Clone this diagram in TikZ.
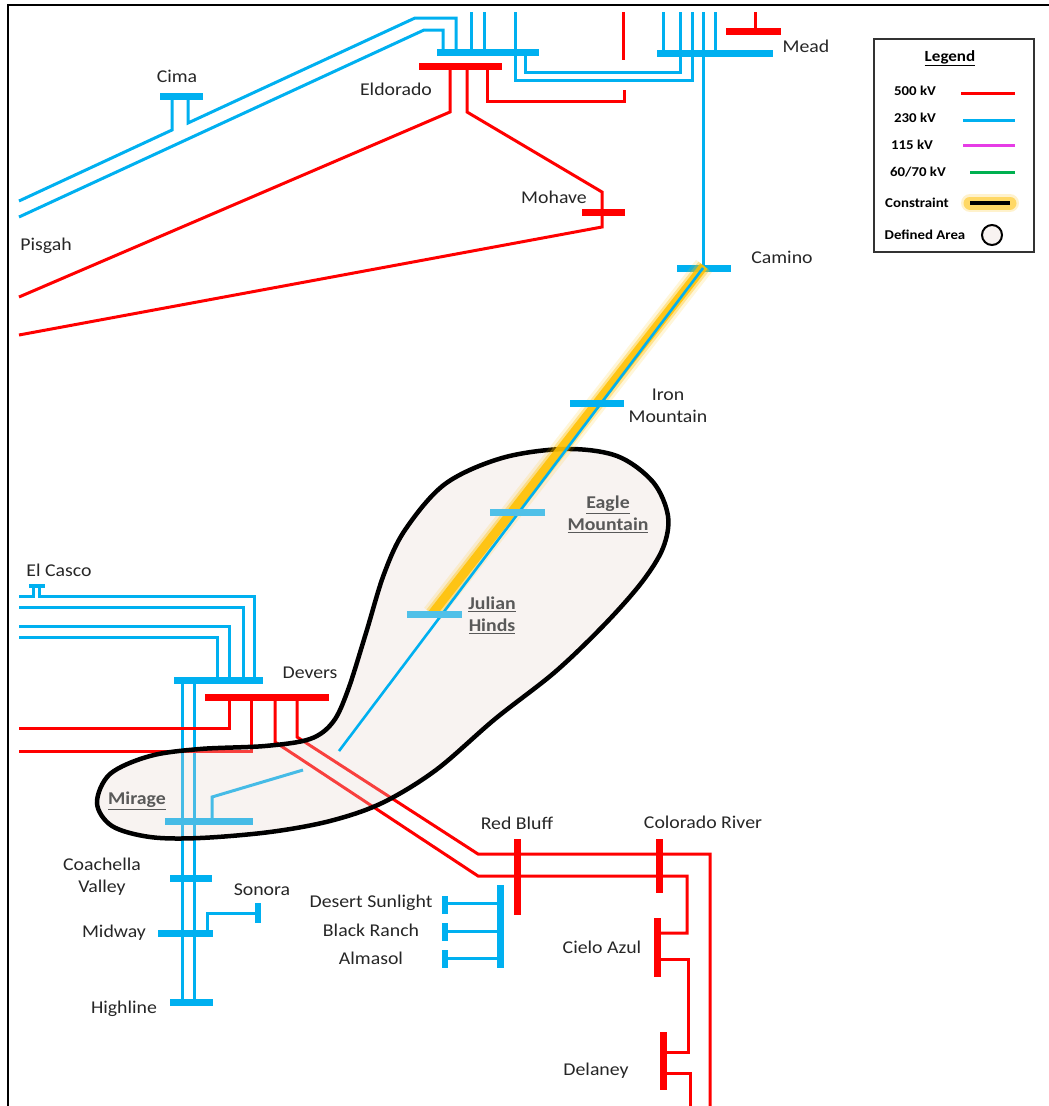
\documentclass[tikz,border=0pt]{standalone}
\usepackage{fontspec}
\setmainfont{Carlito}[FakeStretch=1.1]
\definecolor{rd}{RGB}{255,0,0}
\definecolor{bl}{RGB}{0,176,240}
\definecolor{lbl}{RGB}{80,192,232}
\definecolor{mg}{RGB}{230,60,230}
\definecolor{gr}{RGB}{0,176,80}
\definecolor{gold}{RGB}{255,192,0}
\definecolor{areafill}{RGB}{232,215,208}
\definecolor{areafillL}{RGB}{248,243,241}
\definecolor{txt}{RGB}{38,38,38}
\definecolor{utxt}{RGB}{89,89,89}
\tikzset{
  rline/.style={draw=rd, line width=3pt},
  bline/.style={draw=bl, line width=3pt},
  rbus/.style={draw=rd, line width=7pt},
  bbus/.style={draw=bl, line width=7pt},
  lbus/.style={draw=lbl, line width=7pt},
  lab/.style={font=\fontsize{18}{22}\selectfont, text=txt, inner sep=0pt, align=center},
  ulab/.style={font=\fontsize{18}{22}\selectfont\bfseries, text=utxt, inner sep=0pt, align=center},
  leg/.style={font=\fontsize{13.5}{16}\selectfont\bfseries, text=black, inner sep=0pt},
  areashape/.style={smooth cycle, tension=0.55},
}
\begin{document}
\begin{tikzpicture}[x=1pt,y=-1pt]
\useasboundingbox (0,0) rectangle (1049,1106);
% frame
\draw[line width=2pt, black] (8,1106) -- (8,5) -- (1049,5);

% ---------- top: Cima, Pisgah, Eldorado, Mead ----------
\draw[bline] (19,201) -- (172,130) -- (172,96);
\draw[bline] (188,96) -- (188,123) -- (415,18) -- (456,18) -- (456,52);
\draw[bline] (19,217) -- (424,30) -- (443,30) -- (443,52);
\draw[bbus] (160,96) -- (203,96);
\draw[bline] (471,12) -- (471,52);
\draw[bline] (484,12) -- (484,52);
\draw[bline] (515,12) -- (515,80) -- (692,80) -- (692,12);
\draw[bline] (525,52) -- (525,72) -- (680,72) -- (680,12);
\draw[bline] (663,12) -- (663,53);
\draw[bline] (715,12) -- (715,53);
\draw[bline] (703,12) -- (703,268);
\draw[bbus] (437,52) -- (539,52);
\draw[bbus] (657,53) -- (773,53);
\draw[rline] (755,12) -- (755,31);
\draw[rbus] (726,31) -- (781,31);
\draw[rline] (623,12) -- (623,60);
\draw[rline] (487,66) -- (487,101) -- (624,101) -- (624,90);
\draw[rline] (450,66) -- (450,112) -- (19,297);
\draw[rline] (467,66) -- (467,112) -- (602,192) -- (602,227) -- (19,335);
\draw[rbus] (419,66) -- (502,66);
\draw[rbus] (582,212) -- (625,212);
\draw[bbus] (677,268) -- (731,268);

% ---------- Devers area ----------
\draw[bline] (19,596) -- (33,596) -- (33,586);
\draw[draw=bl, line width=4.5pt] (29,586) -- (45,586);
\draw[bline] (39,586) -- (39,596) -- (254,596) -- (254,680);
\draw[bline] (19,607) -- (243,607) -- (243,680);
\draw[bline] (19,626) -- (229,626) -- (229,680);
\draw[bline] (19,637) -- (217,637) -- (217,680);
\draw[bline] (182,680) -- (182,1002);
\draw[bline] (194,680) -- (194,1002);
\draw[bbus] (174,680) -- (263,680);
\draw[rline] (229,697) -- (229,728) -- (19,728);
\draw[rline] (251,697) -- (251,751) -- (19,751);
\draw[rline] (275,697) -- (275,742) -- (478,876) -- (687,876) -- (687,933) -- (660,933);
\draw[rline] (297,697) -- (297,737) -- (478,854) -- (710,854) -- (710,1106);
\draw[rbus] (205,697) -- (329,697);
\draw[rline] (657,959) -- (688,959) -- (688,1052) -- (663,1052);
\draw[rline] (663,1073) -- (690,1073) -- (690,1106);
\draw[rbus] (657,918) -- (657,977);
\draw[rbus] (663,1032) -- (663,1090);
\draw[rbus] (517,839) -- (517,915);
\draw[rbus] (659,839) -- (659,893);

% solar
\draw[bline] (445,903) -- (500,903);
\draw[bline] (445,931) -- (500,931);
\draw[bline] (445,958) -- (500,958);
\draw[bbus] (500,885) -- (500,968);
\draw[draw=bl, line width=6pt] (445,896) -- (445,914);
\draw[draw=bl, line width=6pt] (445,923) -- (445,941);
\draw[draw=bl, line width=6pt] (445,950) -- (445,968);

% Mirage / Coachella / Midway / Sonora / Highline
\draw[bline] (212,821) -- (212,797) -- (303,770);
\draw[bbus] (165,821) -- (253,821);
\draw[bbus] (170,878) -- (212,878);
\draw[bline] (207,933) -- (207,913) -- (258,913);
\draw[bbus] (158,933) -- (213,933);
\draw[draw=bl, line width=6pt] (258,903) -- (258,923);
\draw[bbus] (170,1002) -- (213,1002);

% ---------- defined area ----------
\def\areapts{(565,449) (617,456) (653,482) (668,516) (663,548) (642,582) (605,624)
(555,672) (495,719) (436,770) (382,803) (330,821) (270,832) (200,838) (150,837) (112,826)
(97,803) (110,774) (150,756) (200,749) (265,746) (310,739) (333,722) (348,690)
(366,633) (384,574) (405,530) (445,484) (502,458)}
\path[fill=areafill, fill opacity=0.3] plot[areashape] coordinates {\areapts};
\draw[line width=4.5pt, black] plot[areashape] coordinates {\areapts};

% ---------- constraint ----------
\draw[gold, line width=20pt, opacity=0.15] (704,266) -- (432,614);
\draw[gold, line width=14pt, opacity=0.35] (704,266) -- (432,614);
\draw[gold, line width=9pt, opacity=0.85] (704,266) -- (432,614);
\draw[draw=bl, line width=2.6pt] (703,268) -- (339,751);
\draw[bbus] (570,403) -- (624,403);
\draw[lbus] (490,512) -- (545,512);
\draw[lbus] (407,614) -- (462,614);

% ---------- labels ----------
\node[lab] (cima) at (177,76) {Cima};
\node[lab] (eldorado) at (396,89) {Eldorado};
\node[lab] (mohave) at (554,197) {Mohave};
\node[lab] (pisgah) at (46,246) {Pisgah};
\node[lab] (mead) at (806,46) {Mead};
\node[lab] (camino) at (782,257) {Camino};
\node[lab] (iron) at (668,406) {Iron\\Mountain};
\node[ulab] (eagle) at (608,514) {\underline{Eagle}\\\underline{Mountain}};
\node[ulab] (julian) at (492,615) {\underline{Julian}\\\underline{Hinds}};
\node[lab] (elcasco) at (59,570) {El Casco};
\node[lab] (devers) at (310,673) {Devers};
\node[ulab] (mirage) at (137,801) {\underline{Mirage}};
\node[lab] (redbluff) at (517,823) {Red Bluff};
\node[lab] (colorado) at (703,822) {Colorado River};
\node[lab] (coachella) at (102,877) {Coachella\\Valley};
\node[lab] (sonora) at (262,890) {Sonora};
\node[lab] (midway) at (114,933) {Midway};
\node[lab] (desert) at (371,903) {Desert Sunlight};
\node[lab] (black) at (371,930) {Black Ranch};
\node[lab] (almasol) at (371,958) {Almasol};
\node[lab] (cielo) at (602,947) {Cielo Azul};
\node[lab] (highline) at (124,1009) {Highline};
\node[lab] (delaney) at (596,1071) {Delaney};

% ---------- legend ----------
\draw[line width=1.8pt, draw=black!80, fill=white] (874,39) rectangle (1034,252);
\node[leg, font=\fontsize{15.5}{18}\selectfont\bfseries] (legtitle) at (950,58) {\underline{Legend}};
\node[leg] (l500) at (915,91) {500 kV};
\draw[draw=rd, line width=3pt] (961,93) -- (1015,93);
\node[leg] (l230) at (915,118) {230 kV};
\draw[draw=bl, line width=3pt] (963,120) -- (1015,120);
\node[leg] (l115) at (912,145) {115 kV};
\draw[draw=mg, line width=3pt] (963,145) -- (1015,145);
\node[leg] (l60) at (918,172) {60/70 kV};
\draw[draw=gr, line width=3pt] (970,172) -- (1015,172);
\node[leg] (lcon) at (917,203) {Constraint};
\draw[gold, line width=18pt, opacity=0.2, line cap=round] (970,203) -- (1010,203);
\draw[gold, line width=13pt, opacity=0.5, line cap=round] (970,203) -- (1010,203);
\draw[draw=black, line width=3.5pt] (970,203) -- (1010,203);
\node[leg] (larea) at (925,235) {Defined Area};
\draw[line width=2pt, draw=black, fill=areafillL] (992,235) circle (10);
\end{tikzpicture}
\end{document}
